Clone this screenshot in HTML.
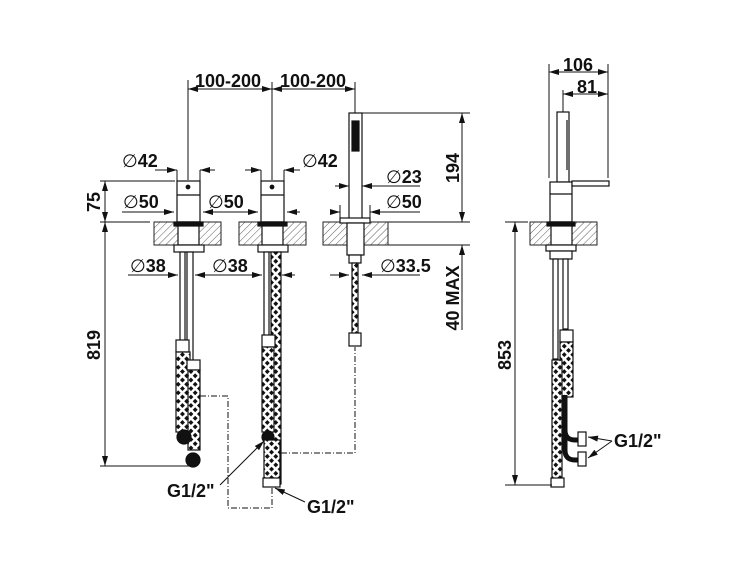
<!DOCTYPE html>
<html><head><meta charset="utf-8"><style>
html,body{margin:0;padding:0;background:#fff;}
svg{display:block;}
text{font-family:"Liberation Sans","DejaVu Sans",sans-serif;font-weight:bold;font-size:18px;fill:#111;}
.d{font-weight:normal;}
</style></head><body>
<svg width="750" height="563" viewBox="0 0 750 563" xmlns="http://www.w3.org/2000/svg">
<defs>
<pattern id="h" width="5" height="5" patternUnits="userSpaceOnUse" patternTransform="rotate(45)">
<line x1="0" y1="0" x2="0" y2="5" stroke="#333" stroke-width="0.8"/></pattern>
<pattern id="br" width="6" height="6" patternUnits="userSpaceOnUse" patternTransform="rotate(45)">
<rect width="6" height="6" fill="#fff"/><rect width="3.5" height="3.5" fill="#111"/></pattern>
<marker id="a" markerWidth="10" markerHeight="6" refX="10" refY="3" orient="auto-start-reverse" markerUnits="userSpaceOnUse">
<path d="M0,0 L10,3 L0,6 z" fill="#111"/></marker>
</defs>
<g stroke="#111" stroke-width="1" fill="none">
<line x1="188" y1="80" x2="188" y2="180"/><line x1="272" y1="82" x2="272" y2="180"/><line x1="355" y1="82" x2="355" y2="113"/>
<line x1="188" y1="89" x2="272" y2="89" marker-start="url(#a)" marker-end="url(#a)"/>
<line x1="272" y1="89" x2="355" y2="89" marker-start="url(#a)" marker-end="url(#a)"/>
<line x1="362" y1="113" x2="470" y2="113"/><line x1="388" y1="222" x2="470" y2="222"/><line x1="388" y1="245" x2="470" y2="245"/>
<line x1="462" y1="113" x2="462" y2="222" marker-start="url(#a)" marker-end="url(#a)"/>
<line x1="462" y1="245" x2="462" y2="330" marker-start="url(#a)"/>
<line x1="100" y1="181" x2="175" y2="181"/><line x1="100" y1="222" x2="150" y2="222"/><line x1="100" y1="466" x2="190" y2="466"/>
<line x1="105" y1="181" x2="105" y2="222" marker-start="url(#a)" marker-end="url(#a)"/>
<line x1="105" y1="222" x2="105" y2="466" marker-start="url(#a)" marker-end="url(#a)"/>
<line x1="155" y1="170" x2="177" y2="170" marker-end="url(#a)"/><line x1="215" y1="170" x2="200" y2="170" marker-end="url(#a)"/>
<line x1="245" y1="170" x2="261" y2="170" marker-end="url(#a)"/><line x1="300" y1="170" x2="284" y2="170" marker-end="url(#a)"/>
<line x1="122" y1="212" x2="174" y2="212" marker-end="url(#a)"/><line x1="210" y1="212" x2="258" y2="212" marker-end="url(#a)"/><line x1="235" y1="212" x2="203" y2="212" marker-end="url(#a)"/>
<line x1="300" y1="212" x2="287" y2="212" marker-end="url(#a)"/>
<line x1="335" y1="186" x2="349" y2="186" marker-end="url(#a)"/><line x1="420" y1="186" x2="362" y2="186" marker-end="url(#a)"/>
<line x1="330" y1="212" x2="340" y2="212" marker-end="url(#a)"/><line x1="420" y1="212" x2="370" y2="212" marker-end="url(#a)"/>
<line x1="128" y1="275" x2="178" y2="275" marker-end="url(#a)"/><line x1="210" y1="275" x2="195" y2="275" marker-end="url(#a)"/>
<line x1="205" y1="275" x2="262" y2="275" marker-end="url(#a)"/><line x1="295" y1="275" x2="282" y2="275" marker-end="url(#a)"/>
<line x1="330" y1="275" x2="349" y2="275" marker-end="url(#a)"/><line x1="420" y1="275" x2="362" y2="275" marker-end="url(#a)"/>
<line x1="177" y1="170" x2="177" y2="181"/><line x1="200" y1="170" x2="200" y2="181"/><line x1="261" y1="170" x2="261" y2="181"/><line x1="284" y1="170" x2="284" y2="181"/>
<line x1="340" y1="205" x2="340" y2="222"/><line x1="370" y1="205" x2="370" y2="222"/>
</g>
<g stroke="#222" stroke-width="1">
<rect x="154" y="222" width="67" height="23" fill="url(#h)"/>
<rect x="239" y="222" width="67" height="23" fill="url(#h)"/>
<rect x="323" y="222" width="65" height="23" fill="url(#h)"/>
<rect x="530" y="222" width="67" height="23" fill="url(#h)"/>
</g>
<g stroke="#111" stroke-width="1.2" fill="#fff">
<rect x="177" y="181" width="23" height="41"/><line x1="177" y1="195" x2="200" y2="195"/><circle cx="188" cy="187" r="1.8" fill="#111"/>
<rect x="178" y="222" width="21" height="23"/><rect x="174" y="222" width="29" height="4" fill="#111"/>
<rect x="174" y="245" width="30" height="7"/>
<rect x="180" y="252" width="5" height="90"/><rect x="187" y="252" width="6" height="110"/>
<rect x="176" y="340" width="13" height="12"/><rect x="176" y="352" width="14" height="80" fill="url(#br)"/>
<rect x="187" y="360" width="13" height="10"/><rect x="188" y="370" width="12" height="80" fill="url(#br)"/>
<circle cx="184" cy="437" r="7" fill="#111"/><circle cx="193" cy="460" r="7" fill="#111"/>
<rect x="261" y="181" width="23" height="41"/><line x1="261" y1="195" x2="284" y2="195"/><circle cx="272" cy="187" r="1.8" fill="#111"/>
<rect x="262" y="222" width="21" height="23"/><rect x="258" y="222" width="29" height="4" fill="#111"/>
<rect x="258" y="245" width="30" height="7"/>
<rect x="264" y="252" width="5" height="85"/><rect x="271" y="252" width="10" height="232" fill="url(#br)"/>
<rect x="262" y="335" width="13" height="12"/><rect x="262" y="347" width="12" height="85" fill="url(#br)"/>
<circle cx="268" cy="437" r="6" fill="#111"/>
<rect x="264" y="440" width="16" height="40" fill="url(#br)"/><rect x="263" y="478" width="17" height="9"/>
<rect x="349" y="113" width="13" height="109"/><rect x="352" y="121" width="7" height="30" fill="#111"/>
<rect x="340" y="218" width="30" height="5"/><rect x="347" y="223" width="17" height="32"/>
<rect x="349" y="255" width="12" height="8"/><rect x="352" y="263" width="6" height="72" fill="url(#br)"/>
<rect x="349" y="333" width="12" height="13"/>
<rect x="557" y="112" width="12" height="70"/><line x1="567" y1="120" x2="567" y2="170"/>
<rect x="550" y="182" width="22" height="40"/><line x1="550" y1="194" x2="572" y2="194"/>
<rect x="572" y="181" width="37" height="5"/>
<rect x="551" y="222" width="21" height="23"/><rect x="547" y="222" width="28" height="4" fill="#111"/>
<rect x="546" y="245" width="30" height="6"/><rect x="550" y="251" width="22" height="8"/>
<rect x="553" y="259" width="5" height="100"/><rect x="563" y="259" width="5" height="70"/>
<rect x="560" y="330" width="13" height="12"/><rect x="560" y="342" width="13" height="55" fill="url(#br)"/>
<rect x="552" y="360" width="10" height="120" fill="url(#br)"/><rect x="551" y="478" width="13" height="9"/>
<path d="M565,395 v35 q0,10 10,10 h10" fill="none" stroke-width="5"/><path d="M565,430 v20 q0,10 10,10 h10" fill="none" stroke-width="5"/>
<rect x="578" y="432" width="8" height="14"/><rect x="578" y="452" width="8" height="14"/>
</g>
<g stroke="#111" stroke-width="1" fill="none">
<line x1="549" y1="64" x2="549" y2="178"/><line x1="608" y1="64" x2="608" y2="178"/><line x1="563" y1="90" x2="563" y2="112"/>
<line x1="549" y1="72" x2="608" y2="72" marker-start="url(#a)" marker-end="url(#a)"/>
<line x1="563" y1="94" x2="608" y2="94" marker-start="url(#a)" marker-end="url(#a)"/>
<line x1="505" y1="222" x2="528" y2="222"/><line x1="505" y1="485" x2="552" y2="485"/>
<line x1="515" y1="222" x2="515" y2="485" marker-start="url(#a)" marker-end="url(#a)"/>
<line x1="612" y1="441" x2="588" y2="437" marker-end="url(#a)"/><line x1="612" y1="441" x2="588" y2="458" marker-end="url(#a)"/>
<line x1="220" y1="485" x2="264" y2="441" marker-end="url(#a)"/>
<line x1="305" y1="502" x2="275" y2="488" marker-end="url(#a)"/>
<g stroke-dasharray="6,2,1,2">
<polyline points="200,396 228,396 228,508 272,508 272,488"/>
<polyline points="281,453 355,453 355,347"/>
</g>
</g>
<text x="195" y="87">100-200</text><text x="280" y="87">100-200</text>
<text x="122" y="167"><tspan class="d">∅</tspan>42</text><text x="302" y="167"><tspan class="d">∅</tspan>42</text>
<text x="123" y="208"><tspan class="d">∅</tspan>50</text><text x="208" y="208"><tspan class="d">∅</tspan>50</text>
<text x="386" y="183"><tspan class="d">∅</tspan>23</text><text x="386" y="208"><tspan class="d">∅</tspan>50</text>
<text x="130" y="272"><tspan class="d">∅</tspan>38</text><text x="212" y="272"><tspan class="d">∅</tspan>38</text><text x="380" y="272"><tspan class="d">∅</tspan>33.5</text>
<text transform="translate(100,202) rotate(-90)" text-anchor="middle">75</text>
<text transform="translate(100,345) rotate(-90)" text-anchor="middle">819</text>
<text transform="translate(459,168) rotate(-90)" text-anchor="middle">194</text>
<text transform="translate(459,298) rotate(-90)" text-anchor="middle">40 MAX</text>
<text transform="translate(511,355) rotate(-90)" text-anchor="middle">853</text>
<text x="563" y="71">106</text><text x="577" y="93">81</text>
<text x="614" y="447">G1/2"</text>
<text x="167" y="497">G1/2"</text><text x="307" y="513">G1/2"</text>
</svg>
</body></html>
